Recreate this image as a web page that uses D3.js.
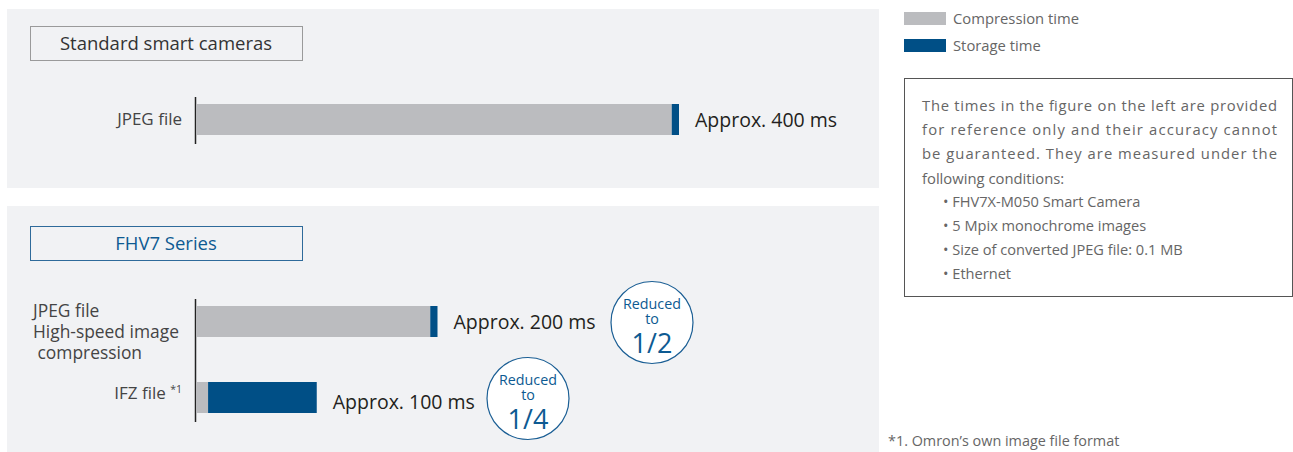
<!DOCTYPE html>
<html>
<head>
<meta charset="utf-8">
<script src="https://cdn.jsdelivr.net/npm/d3@7"></script>
<style>
  body { margin: 0; background: #fff; font-family: 'Open Sans', sans-serif; }
  svg text { font-family: 'Open Sans', sans-serif; }
</style>
</head>
<body>
<div id="chart"></div>
<script>
// Data
const panelTitles = ['Standard smart cameras', 'FHV7 Series'];
const categories = ['JPEG file', 'JPEG file High-speed image compression', 'IFZ file'];
const categoryPanel = [0, 1, 1];
const compressionMs = [394, 194, 10];
const storageMs = [6, 6, 90];
const totalLabels = ['Approx. 400 ms', 'Approx. 200 ms', 'Approx. 100 ms'];
const reductionLabels = [null, '1/2', '1/4'];
const legendLabels = ['Compression time', 'Storage time'];
const noteParagraph = [
  'The times in the figure on the left are provided',
  'for reference only and their accuracy cannot',
  'be guaranteed. They are measured under the',
  'following conditions:'
];
const noteBullets = [
  'FHV7X-M050 Smart Camera',
  '5 Mpix monochrome images',
  'Size of converted JPEG file: 0.1 MB',
  'Ethernet'
];
const footnote = '*1. Omron\u2019s own image file format';

const width = 1293;
const height = 452;
const grey = '#bbbcbf';
const blue = '#004f86';
const panelBg = '#f1f2f4';

const svg = d3.select('#chart')
  .append('svg')
  .attr('width', width)
  .attr('height', height);

const xScale = d3.scaleLinear().domain([0, 400]).range([196, 679]);

const panels = [
  { x: 7, y: 9, w: 872, h: 179, box: [30, 26], bars: [104, 135], border: '#9a9a9a', color: '#333' },
  { x: 7, y: 206, w: 872, h: 246, box: [30, 226], bars: [306, 413], border: '#2e6a9a', color: '#0d5a92' }
];

panels.forEach((p, pi) => {
  const g = svg.append('g');
  g.append('rect')
    .attr('x', p.x).attr('y', p.y)
    .attr('width', p.w).attr('height', p.h)
    .attr('fill', panelBg);

  g.append('rect')
    .attr('x', p.box[0] + 0.5).attr('y', p.box[1] + 0.5)
    .attr('width', 272).attr('height', 34)
    .attr('fill', 'none')
    .attr('stroke', p.border);

  g.append('text')
    .attr('x', p.box[0] + 136).attr('y', p.box[1] + 24)
    .attr('text-anchor', 'middle')
    .attr('font-size', 18.5)
    .attr('fill', p.color)
    .text(panelTitles[pi]);

  const idx = d3.range(categories.length).filter((i) => categoryPanel[i] === pi);
  const yScale = d3.scaleBand()
    .domain(idx)
    .range(p.bars)
    .paddingInner(idx.length > 1 ? 45 / 76 : 0)
    .paddingOuter(0);

  // axis line
  g.append('line')
    .attr('x1', 195.5).attr('x2', 195.5)
    .attr('y1', p.bars[0] - 7).attr('y2', p.bars[1] + 9)
    .attr('stroke', '#222').attr('stroke-width', 1.5);

  idx.forEach((i) => {
    const y = yScale(i);
    const bh = yScale.bandwidth();
    g.append('rect')
      .attr('x', xScale(0)).attr('y', y)
      .attr('width', xScale(compressionMs[i]) - xScale(0)).attr('height', bh)
      .attr('fill', grey);
    g.append('rect')
      .attr('x', xScale(compressionMs[i])).attr('y', y)
      .attr('width', xScale(compressionMs[i] + storageMs[i]) - xScale(compressionMs[i])).attr('height', bh)
      .attr('fill', blue);

    const total = compressionMs[i] + storageMs[i];
    g.append('text')
      .attr('x', xScale(total) + 16).attr('y', y + bh / 2 + (i === 2 ? 11 : 7))
      .attr('font-size', 19.5)
      .attr('fill', '#231f20')
      .text(totalLabels[i]);

    if (reductionLabels[i]) {
      const cx = i === 1 ? 652 : 528;
      const cy = y + bh / 2 + 1;
      const c = g.append('g').attr('transform', `translate(${cx},${cy})`);
      c.append('circle').attr('r', 41).attr('fill', '#fff').attr('stroke', '#1a5e94').attr('stroke-width', 1.2);
      // one text element, three lines
      const t = c.append('text').attr('text-anchor', 'middle').attr('fill', '#0d5a92');
      t.append('tspan').attr('x', 0).attr('y', -14).attr('font-size', 14.3).text('Reduced');
      t.append('tspan').attr('x', 0).attr('y', 1).attr('font-size', 14.3).text('to');
      t.append('tspan').attr('x', 0).attr('y', 30).attr('font-size', 27).text(reductionLabels[i]);
    }
  });
});

// Category labels
const catColor = '#444';
svg.append('text')
  .attr('x', 182).attr('y', 125)
  .attr('text-anchor', 'end').attr('font-size', 17).attr('fill', catColor)
  .text(categories[0]);

const multi = svg.append('text').attr('font-size', 17.4).attr('fill', catColor);
['JPEG file', 'High-speed image', '\u00a0compression'].forEach((t, k) => {
  multi.append('tspan').attr('x', 33).attr('y', 317 + k * 21).text(t);
});

const ifz = svg.append('text')
  .attr('x', 182).attr('y', 399)
  .attr('text-anchor', 'end').attr('font-size', 17).attr('fill', catColor);
ifz.append('tspan').text(categories[2] + ' ');
ifz.append('tspan').attr('dy', -6).attr('font-size', 10.5).text('*1');

// Legend
const legend = svg.append('g').attr('transform', 'translate(904,12)');
[grey, blue].forEach((col, k) => {
  legend.append('rect').attr('x', 0).attr('y', k * 27).attr('width', 42).attr('height', 13).attr('fill', col);
  legend.append('text').attr('x', 49).attr('y', k * 27 + 12).attr('font-size', 14.8).attr('fill', '#666').text(legendLabels[k]);
});

// Note box
svg.append('rect')
  .attr('x', 904.5).attr('y', 78.5)
  .attr('width', 388).attr('height', 218)
  .attr('fill', 'none').attr('stroke', '#555');

noteParagraph.forEach((t, k) => {
  const el = svg.append('text')
    .attr('x', 922).attr('y', 111 + k * 24.2)
    .attr('font-size', 14.8).attr('fill', '#666')
    .text(t);
  if (k < 3) el.attr('textLength', 355).attr('lengthAdjust', 'spacing');
});
noteBullets.forEach((t, k) => {
  svg.append('text')
    .attr('x', 943).attr('y', 207 + k * 24)
    .attr('font-size', 14.6).attr('fill', '#666')
    .text('\u2022 ' + t);
});

svg.append('text')
  .attr('x', 888).attr('y', 446)
  .attr('font-size', 14.4).attr('fill', '#666')
  .text(footnote);
</script>
</body>
</html>
